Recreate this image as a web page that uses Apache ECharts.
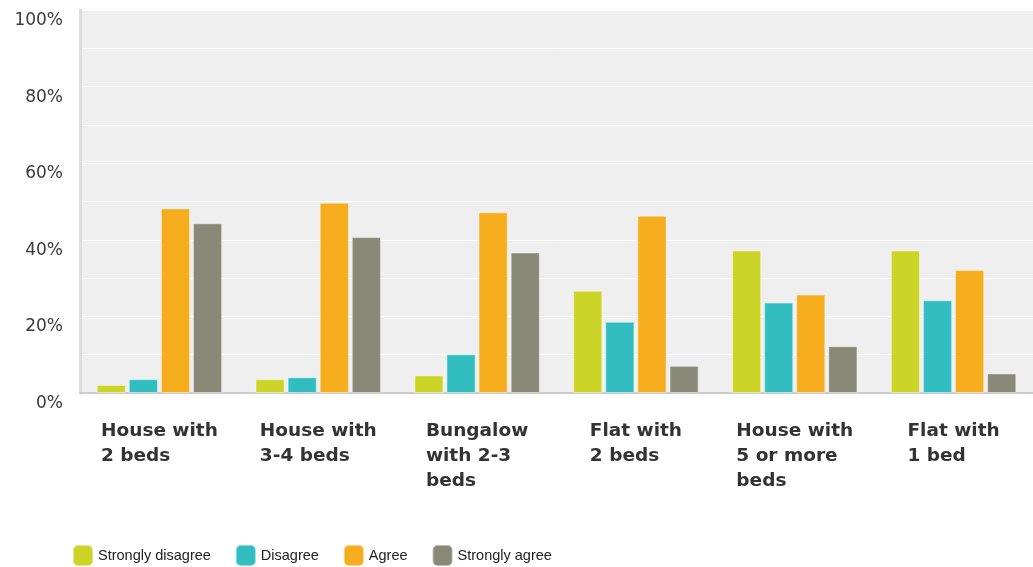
<!DOCTYPE html>
<html>
<head>
<meta charset="utf-8">
<script src="https://cdn.jsdelivr.net/npm/echarts@6/dist/echarts.min.js"></script>
<style>
html,body{margin:0;padding:0;background:#fff;}
#chart{width:1033px;height:567px;}
</style>
</head>
<body>
<div id="chart"></div>
<script>
const categories = ['House with\n2 beds', 'House with\n3-4 beds', 'Bungalow\nwith 2-3\nbeds', 'Flat with\n2 beds', 'House with\n5 or more\nbeds', 'Flat with\n1 bed'];
const seriesNames = ['Strongly disagree', 'Disagree', 'Agree', 'Strongly agree'];
const stronglyDisagree = [2.1, 3.6, 4.6, 26.7, 37.2, 37.2];
const disagree = [3.6, 4.1, 10.1, 18.6, 23.6, 24.2];
const agree = [48.2, 49.7, 47.2, 46.3, 25.7, 32.1];
const stronglyAgree = [44.3, 40.7, 36.7, 7.1, 12.2, 5.1];
const yTicks = [0, 20, 40, 60, 80, 100];
const colors = ['#cdd428', '#32bdc0', '#f5ad1d', '#898978'];

const values = [stronglyDisagree, disagree, agree, stronglyAgree];
const catFont = { fontFamily: '"DejaVu Sans", Verdana, sans-serif', fontWeight: 'bold', fontSize: 18.5, lineHeight: 25, color: '#333' };

const chart = echarts.init(document.getElementById('chart'), null, { renderer: 'canvas' });
chart.setOption({
  backgroundColor: '#ffffff',
  animation: false,
  color: colors,
  grid: { left: 80, right: 0, top: 10, bottom: 174, show: true, backgroundColor: '#efefef', borderWidth: 0 },
  legend: {
    data: seriesNames,
    left: 72, top: 544,
    padding: 0,
    itemWidth: 20, itemHeight: 21, itemGap: 24,
    icon: 'roundRect',
    textStyle: { fontFamily: '"Liberation Sans", Arial, sans-serif', fontSize: 14.5, color: '#222' }
  },
  xAxis: {
    type: 'category',
    data: categories,
    axisLine: { show: true, lineStyle: { color: '#cccccc', width: 2 } },
    axisTick: { show: false },
    splitLine: { show: false },
    axisLabel: {
      interval: 0,
      margin: 26,
      align: 'center',
      formatter: function (v) {
        return v.split('\n').map(function (l) { return '{l|' + l + '}'; }).join('\n');
      },
      rich: { l: Object.assign({ align: 'left' }, catFont) }
    }
  },
  yAxis: {
    type: 'value',
    min: 0, max: 100, interval: 10,
    axisLine: { show: true, lineStyle: { color: '#dcdcdc', width: 3 } },
    axisTick: { show: false },
    splitLine: { show: true, lineStyle: { color: '#ffffff', width: 1 } },
    axisLabel: {
      margin: 17,
      verticalAlign: 'top',
      padding: [2, 0, 0, 0],
      fontFamily: '"DejaVu Sans", Verdana, sans-serif',
      fontSize: 17,
      color: '#3a3a3a',
      formatter: function (v) { return yTicks.indexOf(v) >= 0 ? v + '%' : ''; }
    }
  },
  series: seriesNames.map(function (name, i) {
    return {
      name: name,
      type: 'bar',
      data: values[i],
      barGap: '10%',
      barCategoryGap: '21%',
      itemStyle: { color: colors[i], borderColor: 'rgba(255,255,255,0.45)', borderWidth: 1 }
    };
  })
});
</script>
</body>
</html>
